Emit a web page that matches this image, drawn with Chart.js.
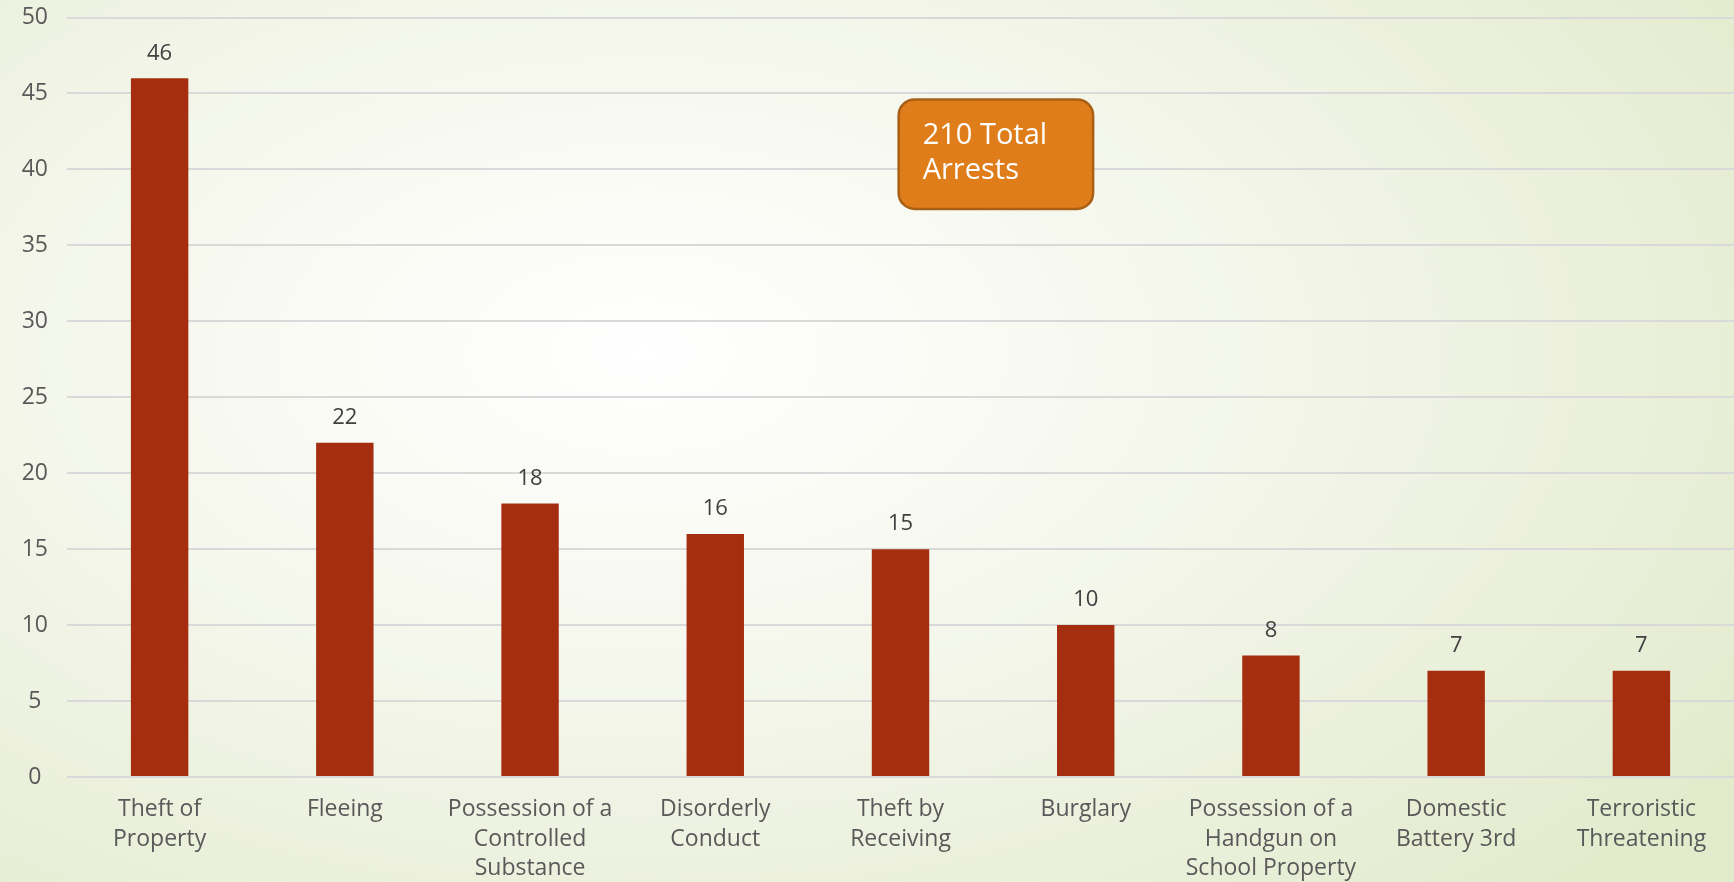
<!DOCTYPE html>
<html>
<head>
<meta charset="utf-8">
<script src="https://cdn.jsdelivr.net/npm/chart.js@4/dist/chart.umd.min.js"></script>
<style>
  html, body { margin: 0; padding: 0; }
  body {
    width: 1734px; height: 882px; overflow: hidden;
    background: radial-gradient(ellipse 75% 85% at 37% 40%, #ffffff 0%, #f8faf2 30%, #eef2e1 65%, #e3ebcd 100%);
  }
  #wrap { position: relative; width: 1734px; height: 882px; }
</style>
</head>
<body>
<div id="wrap"><canvas id="arrests"></canvas></div>
<script>
const categories = [
  ["Theft of", "Property"],
  ["Fleeing"],
  ["Possession of a", "Controlled", "Substance"],
  ["Disorderly", "Conduct"],
  ["Theft by", "Receiving"],
  ["Burglary"],
  ["Possession of a", "Handgun on", "School Property"],
  ["Domestic", "Battery 3rd"],
  ["Terroristic", "Threatening"]
];
const arrests = [46, 22, 18, 16, 15, 10, 8, 7, 7];
const yTicks = [0, 5, 10, 15, 20, 25, 30, 35, 40, 45, 50];

// callout box text and where it sits (category index / value units)
const calloutLines = ["210 Total", "Arrests"];
const calloutX = [3.99, 5.04];
const calloutY = [44.6, 37.4];

const FONT = "'Open Sans', Lato, sans-serif";
const TEXT = "#595959";

const valueLabels = {
  id: "valueLabels",
  afterDatasetsDraw(chart) {
    const ctx = chart.ctx;
    const meta = chart.getDatasetMeta(0);
    ctx.save();
    ctx.font = "22px " + FONT;
    ctx.fillStyle = "#404040";
    ctx.textAlign = "center";
    ctx.textBaseline = "middle";
    meta.data.forEach((bar, i) => {
      ctx.fillText(String(arrests[i]), bar.x, bar.y - 25);
    });
    ctx.restore();
  }
};

const callout = {
  id: "callout",
  afterDraw(chart) {
    const { ctx, scales } = chart;
    const x0 = scales.x.getPixelForValue(calloutX[0]);
    const x1 = scales.x.getPixelForValue(calloutX[1]);
    const y0 = scales.y.getPixelForValue(calloutY[0]);
    const y1 = scales.y.getPixelForValue(calloutY[1]);
    ctx.save();
    ctx.beginPath();
    ctx.roundRect(x0, y0, x1 - x0, y1 - y0, 16);
    ctx.fillStyle = "#df7d1a";
    ctx.fill();
    ctx.lineWidth = 2.5;
    ctx.strokeStyle = "#a95f16";
    ctx.stroke();
    ctx.fillStyle = "#ffffff";
    ctx.font = "29px " + FONT;
    ctx.textAlign = "left";
    ctx.textBaseline = "alphabetic";
    calloutLines.forEach((t, i) => ctx.fillText(t, x0 + 24, y0 + 44 + i * 35));
    ctx.restore();
  }
};

new Chart(document.getElementById("arrests"), {
  type: "bar",
  data: {
    labels: categories,
    datasets: [{
      data: arrests,
      backgroundColor: "#a52e10",
      barPercentage: 0.62,
      categoryPercentage: 0.5
    }]
  },
  options: {
    responsive: true,
    maintainAspectRatio: false,
    animation: false,
    layout: { padding: 0 },
    plugins: { legend: { display: false }, tooltip: { enabled: false } },
    scales: {
      x: {
        grid: { display: false },
        border: { display: false },
        ticks: {
          color: TEXT,
          font: { family: FONT, size: 23, lineHeight: 1.28 },
          padding: 10,
          maxRotation: 0,
          autoSkip: false
        },
        afterFit(s) { s.height = 105; }
      },
      y: {
        min: 0,
        max: 50,
        afterBuildTicks(s) { s.ticks = yTicks.map(v => ({ value: v })); },
        grid: { color: "#d9d9d9", lineWidth: 2, drawTicks: false },
        border: { display: false },
        ticks: {
          color: TEXT,
          font: { family: FONT, size: 23 },
          crossAlign: "center",
          padding: 19
        },
        afterFit(s) { s.width = 67; s.paddingTop = 17.5; }
      }
    }
  },
  plugins: [valueLabels, callout]
});
</script>
</body>
</html>
